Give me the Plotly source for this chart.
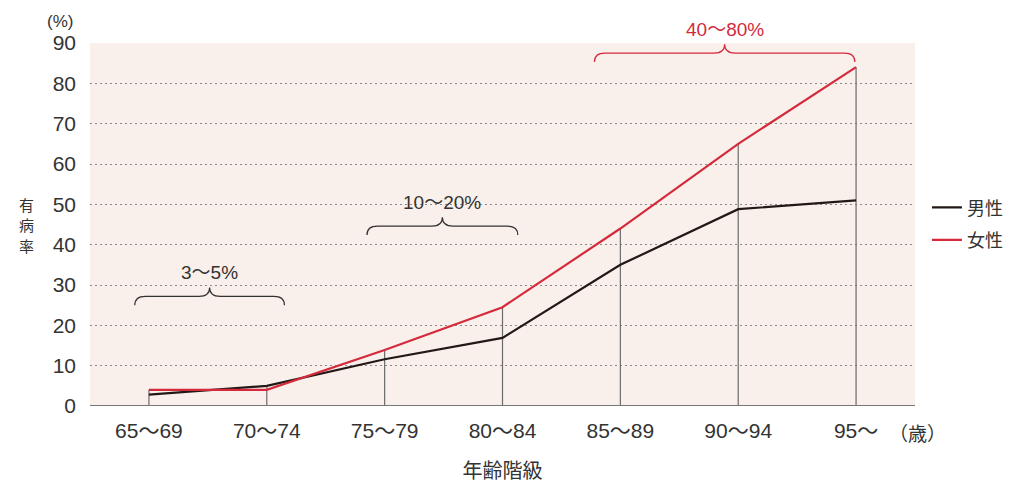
import plotly.graph_objects as go

# Age groups and prevalence (%) by sex
age_groups = ["65～69", "70～74", "75～79", "80～84", "85～89", "90～94", "95～"]
male = [2.8, 5.0, 11.6, 16.9, 35.0, 48.8, 51.0]
female = [4.0, 4.0, 13.9, 24.5, 44.0, 65.0, 84.0]
y_ticks = [0, 10, 20, 30, 40, 50, 60, 70, 80, 90]

# Range brackets: (label, start index, end index, level, colour)
ranges = [
    ("3～5%", -0.12, 1.15, 25.0, "#333333"),
    ("10～20%", 1.85, 3.13, 42.4, "#333333"),
    ("40～80%", 3.78, 5.99, 85.3, "#d42a3c"),
]

FONT = "Liberation Sans, Noto Sans CJK JP"
CJK = "Noto Sans CJK JP"
TEXT = "#333333"
RED = "#d42a3c"
BLACK = "#231815"
Y_MAX = 90

x = list(range(len(age_groups)))

fig = go.Figure()

# vertical drop lines from each point to the baseline
drop_x, drop_y = [], []
for i, (m, f) in enumerate(zip(male, female)):
    drop_x += [i, i, None]
    drop_y += [0, max(m, f), None]
fig.add_trace(go.Scatter(x=drop_x, y=drop_y, mode="lines",
                         line=dict(color="#6b6b6b", width=1.2),
                         showlegend=False, hoverinfo="skip"))

fig.add_trace(go.Scatter(x=x, y=male, mode="lines", name="男性",
                         line=dict(color=BLACK, width=2.2), legendgroup="m"))
fig.add_trace(go.Scatter(x=x, y=female, mode="lines", name="女性",
                         line=dict(color=RED, width=2.2), legendgroup="f"))

# curly braces with their labels
for label, x0, x1, lvl, col in ranges:
    dx = 0.09
    h = 2.2
    xm = (x0 + x1) / 2
    yl = lvl + h
    yp = lvl + 2 * h
    path = (f"M {x0},{lvl} Q {x0},{yl} {x0+dx},{yl} L {xm-dx},{yl} "
            f"Q {xm},{yl} {xm},{yp} Q {xm},{yl} {xm+dx},{yl} "
            f"L {x1-dx},{yl} Q {x1},{yl} {x1},{lvl}")
    fig.add_shape(type="path", path=path, xref="x", yref="y",
                  line=dict(color=col, width=1.2))
    fig.add_annotation(x=xm, y=(yp + 0.6) / Y_MAX, text=label, showarrow=False,
                       yanchor="bottom", xref="x", yref="paper",
                       font=dict(family=FONT, size=19, color=col))

# baseline
fig.add_shape(type="line", xref="paper", yref="y", x0=0, x1=1, y0=0, y1=0,
              line=dict(color="#777777", width=2))

fig.add_annotation(xref="paper", yref="paper", x=-0.036, y=1.058, text="(%)",
                   showarrow=False, yanchor="middle", xanchor="center",
                   font=dict(family=FONT, size=17, color=TEXT))
for k, ch in enumerate("有病率"):
    fig.add_annotation(xref="paper", yref="paper", x=-0.088,
                       y=0.555 - k * 0.056, text=ch, showarrow=False,
                       font=dict(family=CJK, size=15, color=TEXT))
fig.add_annotation(xref="paper", yref="paper", x=0.966, y=-0.072,
                   text="（歳）", showarrow=False, xanchor="left",
                   yanchor="middle",
                   font=dict(family=CJK, size=19, color=TEXT))

fig.update_layout(
    width=1011, height=484,
    margin=dict(l=90, r=96, t=43, b=78, autoexpand=False),
    paper_bgcolor="white",
    plot_bgcolor="#f9f0eb",
    font=dict(family=FONT, color=TEXT),
    legend=dict(x=1.0145, y=0.502, xanchor="left", yanchor="middle",
                font=dict(family=CJK, size=18, color=TEXT),
                tracegroupgap=6, bgcolor="rgba(0,0,0,0)"),
    xaxis=dict(range=[-0.5, 6.5], tickvals=x, ticktext=age_groups,
               showgrid=False, zeroline=False, showline=False,
               automargin=False,
               tickfont=dict(family=FONT, size=21, color=TEXT),
               ticklabelstandoff=10,
               title=dict(text="年齢階級", standoff=27,
                          font=dict(family=CJK, size=20, color=TEXT))),
    yaxis=dict(range=[0, Y_MAX], tickvals=y_ticks, showgrid=True,
               gridcolor="#8a8a8a", griddash="2px,3px", gridwidth=1,
               zeroline=False, showline=False, automargin=False,
               tickfont=dict(family=FONT, size=21, color=TEXT),
               ticklabelstandoff=13),
)

fig.write_html("out.html")
